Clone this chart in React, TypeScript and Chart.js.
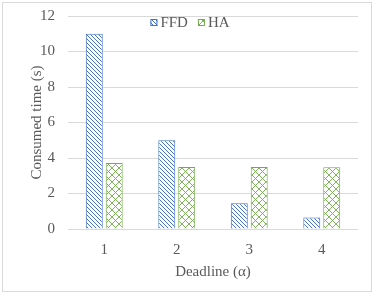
import React, { useEffect, useRef } from "react";
import { Chart, registerables } from "chart.js";

Chart.register(...registerables);

const categories = ["1", "2", "3", "4"];
const ffdValues = [11, 5, 1.45, 0.65];
const haValues = [3.72, 3.5, 3.5, 3.48];
const seriesNames = ["FFD", "HA"];
const yMin = 0;
const yMax = 12;
const yStep = 2;

const BLUE = "#4472C4";
const GREEN = "#70AD47";
const TEXT = "#595959";
const FONT = "Liberation Serif";
const FS = 15;

function diagPattern(color: string) {
  const c = document.createElement("canvas");
  c.width = 4;
  c.height = 4;
  const g = c.getContext("2d")!;
  g.fillStyle = "#fff";
  g.fillRect(0, 0, 4, 4);
  g.strokeStyle = color;
  g.lineWidth = 1;
  g.beginPath();
  g.moveTo(-1, -1);
  g.lineTo(5, 5);
  g.moveTo(-1, 3);
  g.lineTo(1, 5);
  g.moveTo(3, -1);
  g.lineTo(5, 1);
  g.stroke();
  return g.createPattern(c, "repeat")!;
}

function crossPattern(color: string) {
  const s = 7;
  const c = document.createElement("canvas");
  c.width = s;
  c.height = s;
  const g = c.getContext("2d")!;
  g.fillStyle = "#fff";
  g.fillRect(0, 0, s, s);
  g.strokeStyle = color;
  g.lineWidth = 0.9;
  g.beginPath();
  g.moveTo(0, 0);
  g.lineTo(s, s);
  g.moveTo(s, 0);
  g.lineTo(0, s);
  g.stroke();
  return g.createPattern(c, "repeat")!;
}

const legendPlugin = {
  id: "customLegend",
  afterDraw(chart: any) {
    const ctx = chart.ctx;
    const ds = chart.data.datasets;
    ctx.save();
    ctx.font = `${FS}px "${FONT}", serif`;
    ctx.textBaseline = "middle";
    const box = 7;
    const gapBoxText = 3;
    const gapItems = 10;
    const widths = ds.map((d: any) => box + gapBoxText + ctx.measureText(d.label).width);
    const total = widths.reduce((a: number, b: number) => a + b, 0) + gapItems * (ds.length - 1);
    let x = 190 - total / 2;
    const y = 22.5;
    ds.forEach((d: any, i: number) => {
      ctx.fillStyle = d.backgroundColor;
      ctx.fillRect(x, y - box / 2, box, box);
      ctx.strokeStyle = d.borderColor;
      ctx.lineWidth = 1;
      ctx.strokeRect(x + 0.5, y - box / 2 + 0.5, box - 1, box - 1);
      ctx.fillStyle = TEXT;
      ctx.fillText(d.label, x + box + gapBoxText, y + 1);
      x += widths[i] + gapItems;
    });
    ctx.restore();
  },
};

export default function App() {
  const ref = useRef<HTMLCanvasElement>(null);
  useEffect(() => {
    document.body.style.margin = "0";
    Chart.defaults.font.family = FONT;
    const chart = new Chart(ref.current!, {
      type: "bar",
      data: {
        labels: categories,
        datasets: [
          {
            label: seriesNames[0],
            data: ffdValues,
            backgroundColor: diagPattern(BLUE) as any,
            borderColor: BLUE,
            borderWidth: 1,
            categoryPercentage: 0.55,
            barPercentage: 0.85,
          },
          {
            label: seriesNames[1],
            data: haValues,
            backgroundColor: crossPattern(GREEN) as any,
            borderColor: GREEN,
            borderWidth: 1,
            categoryPercentage: 0.55,
            barPercentage: 0.85,
          },
        ],
      },
      options: {
        animation: false,
        responsive: true,
        maintainAspectRatio: false,
        layout: { padding: { top: 16, right: 16, left: 0, bottom: 0 } },
        plugins: { legend: { display: false }, tooltip: { enabled: false } },
        scales: {
          x: {
            grid: { display: false },
            border: { display: false },
            ticks: { color: TEXT, font: { family: FONT, size: FS }, padding: 4 },
            title: {
              display: true,
              text: "Deadline (α)",
              color: TEXT,
              font: { family: FONT, size: FS },
              padding: { top: 0, bottom: 13 },
            },
            afterFit: (s: any) => {
              s.height = 294 - 229;
              s.paddingLeft = 0;
              s.paddingRight = 0;
            },
          },
          y: {
            min: yMin,
            max: yMax,
            grid: { color: "#d9d9d9", drawTicks: false },
            border: { display: false },
            ticks: { stepSize: yStep, color: TEXT, font: { family: FONT, size: FS }, padding: 13 },
            title: {
              display: true,
              text: "Consumed time (s)",
              color: TEXT,
              font: { family: FONT, size: FS },
              padding: { top: 28, bottom: 0 },
            },
            afterFit: (s: any) => {
              s.width = 68;
              s.paddingTop = 0;
              s.paddingBottom = 0;
            },
          },
        },
      },
      plugins: [legendPlugin],
    });
    return () => chart.destroy();
  }, []);
  return (
    <div style={{ position: "relative", width: 374, height: 294 }}>
      <canvas ref={ref} />
      <div
        style={{
          position: "absolute",
          left: 2,
          top: 2,
          width: 368,
          height: 288,
          border: "1px solid #d9d9d9",
          pointerEvents: "none",
        }}
      />
    </div>
  );
}
